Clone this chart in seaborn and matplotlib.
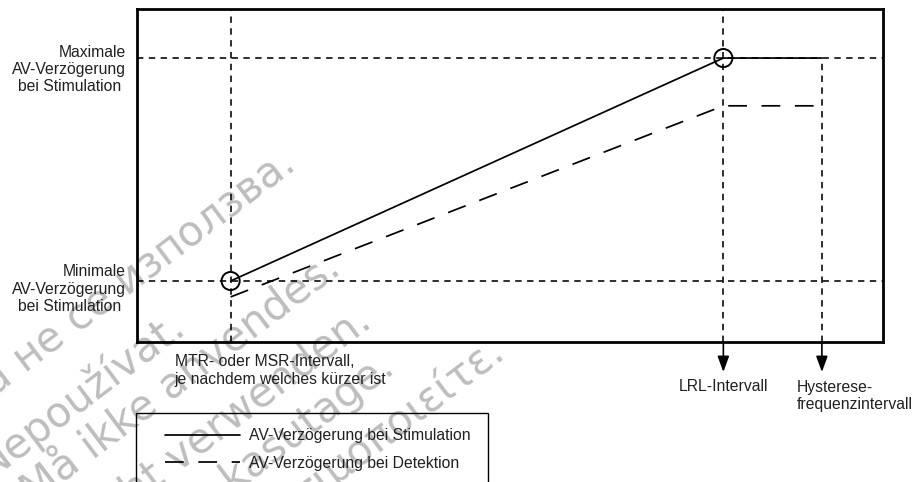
import numpy as np
import pandas as pd
import seaborn as sns
import matplotlib.pyplot as plt
from matplotlib.patches import Rectangle

# x axis: intervals (ms)
MTR_INTERVAL = 500
LRL_INTERVAL = 1000
HYST_INTERVAL = 1100
intervals = [MTR_INTERVAL, LRL_INTERVAL, HYST_INTERVAL]

# y axis: AV delays (ms)
MIN_PACED = 80
MAX_PACED = 150
paced_delay = [80, 150, 150]
sensed_delay = [75, 135, 135]

series_labels = ['AV-Verzögerung bei Stimulation', 'AV-Verzögerung bei Detektion']

max_label = 'Maximale\nAV-Verzögerung\nbei Stimulation '
min_label = 'Minimale\nAV-Verzögerung\nbei Stimulation '
mtr_label = 'MTR- oder MSR-Intervall,\nje nachdem welches kürzer ist'
lrl_label = 'LRL-Intervall'
hyst_label = 'Hysterese-\nfrequenzintervall'

watermark = ['Да не се използва.', 'Nepoužívat.', 'Må ikke anvendes.',
             'Nicht verwenden.', 'Ärge kasutage.', 'Μην τη χρησιμοποιείτε.']

df = pd.DataFrame({
    'interval': intervals * 2,
    'delay': paced_delay + sensed_delay,
    'kind': [series_labels[0]] * 3 + [series_labels[1]] * 3,
})

sns.set_style('white')
plt.rcParams['font.family'] = ['Liberation Sans', 'DejaVu Sans']
TXT = '#231f20'
FS = 11.3

fig = plt.figure(figsize=(9.14, 4.82), dpi=100)
ax = fig.add_axes([137/914, 1 - 342/482, 746/914, 333/482])
ax.set_facecolor('none')

sns.lineplot(data=df, x='interval', y='delay', style='kind',
             dashes={series_labels[0]: '', series_labels[1]: (10.8, 8.4)},
             color='black', linewidth=1.25, legend=False, ax=ax)
handles = list(ax.lines[:2])

ax.set_xlim(405, 1162)
ax.set_ylim(60.85, 165.4)

# reference lines
ref = dict(color='black', lw=1.15, ls=(0, (4.0, 3.4)))
ax.axhline(MAX_PACED, **ref)
ax.axhline(MIN_PACED, **ref)
ax.axvline(MTR_INTERVAL, **ref)
ax.axvline(LRL_INTERVAL, **ref)
ax.vlines(HYST_INTERVAL, ax.get_ylim()[0], MAX_PACED, **ref)

# circles at the corner points
sns.scatterplot(x=[MTR_INTERVAL, LRL_INTERVAL], y=[MIN_PACED, MAX_PACED],
                s=170, color='black', linewidth=1.4, zorder=5, ax=ax)
ax.collections[-1].set_facecolor('none')
ax.collections[-1].set_edgecolor('black')

for s in ax.spines.values():
    s.set_visible(True)
    s.set_color('black')
    s.set_linewidth(2)
ax.set_xticks([])
ax.set_yticks([])
ax.set_xlabel('')
ax.set_ylabel('')

# arrows below the box
for xv in [LRL_INTERVAL, HYST_INTERVAL]:
    ax.annotate('', xy=(xv, -0.09), xycoords=('data', 'axes fraction'),
                xytext=(xv, 0), textcoords=('data', 'axes fraction'),
                arrowprops=dict(arrowstyle='-|>,head_length=0.95,head_width=0.35',
                                color='black', lw=1.2, shrinkA=0, shrinkB=0),
                annotation_clip=False)

ax.annotate(lrl_label, xy=(LRL_INTERVAL, -0.135), xycoords=('data', 'axes fraction'),
            ha='center', va='center', fontsize=FS, color=TXT, annotation_clip=False)
ax.annotate(hyst_label, xy=(HYST_INTERVAL, -0.162), xycoords=('data', 'axes fraction'),
            xytext=(-18, 0), textcoords='offset points',
            ha='left', va='center', multialignment='left', fontsize=FS, color=TXT,
            annotation_clip=False)
ax.annotate(mtr_label, xy=(MTR_INTERVAL, -0.0856), xycoords=('data', 'axes fraction'),
            xytext=(-40.3, 0), textcoords='offset points',
            ha='left', va='center', multialignment='left', fontsize=FS, color=TXT,
            annotation_clip=False)
ax.annotate(max_label, xy=(-0.0147, MAX_PACED), xycoords=('axes fraction', 'data'),
            xytext=(0, -8.3), textcoords='offset points',
            ha='right', va='center', multialignment='right', fontsize=FS, color=TXT,
            annotation_clip=False)
ax.annotate(min_label, xy=(-0.0147, MIN_PACED), xycoords=('axes fraction', 'data'),
            xytext=(0, -5.8), textcoords='offset points',
            ha='right', va='center', multialignment='right', fontsize=FS, color=TXT,
            annotation_clip=False)

# legend
leg = ax.legend(handles, series_labels, loc='upper left',
                bbox_to_anchor=(165/914, 1 - 428/482), bbox_transform=fig.transFigure,
                frameon=False, borderpad=0, borderaxespad=0, handlelength=4.75,
                handletextpad=0.6, labelspacing=0.8, fontsize=FS)
for t in leg.get_texts():
    t.set_color(TXT)
fig.add_artist(Rectangle((136/914, -0.05), (488-136)/914, (482-413)/482 + 0.05,
                         transform=fig.transFigure, fill=False, edgecolor='black', lw=1))

# watermark
wm_pos = [(297, 167), (187, 330), (343, 272), (373, 325), (397, 372), (507, 357)]
for txt, (px, py) in zip(watermark, wm_pos):
    fig.text(px/914, 1 - py/482, txt, rotation=37, rotation_mode='anchor',
             ha='right', va='baseline', fontsize=30, color='#bdbdbd', zorder=-1,
             family=['DejaVu Sans'])

fig.savefig('out.png', dpi=100)
